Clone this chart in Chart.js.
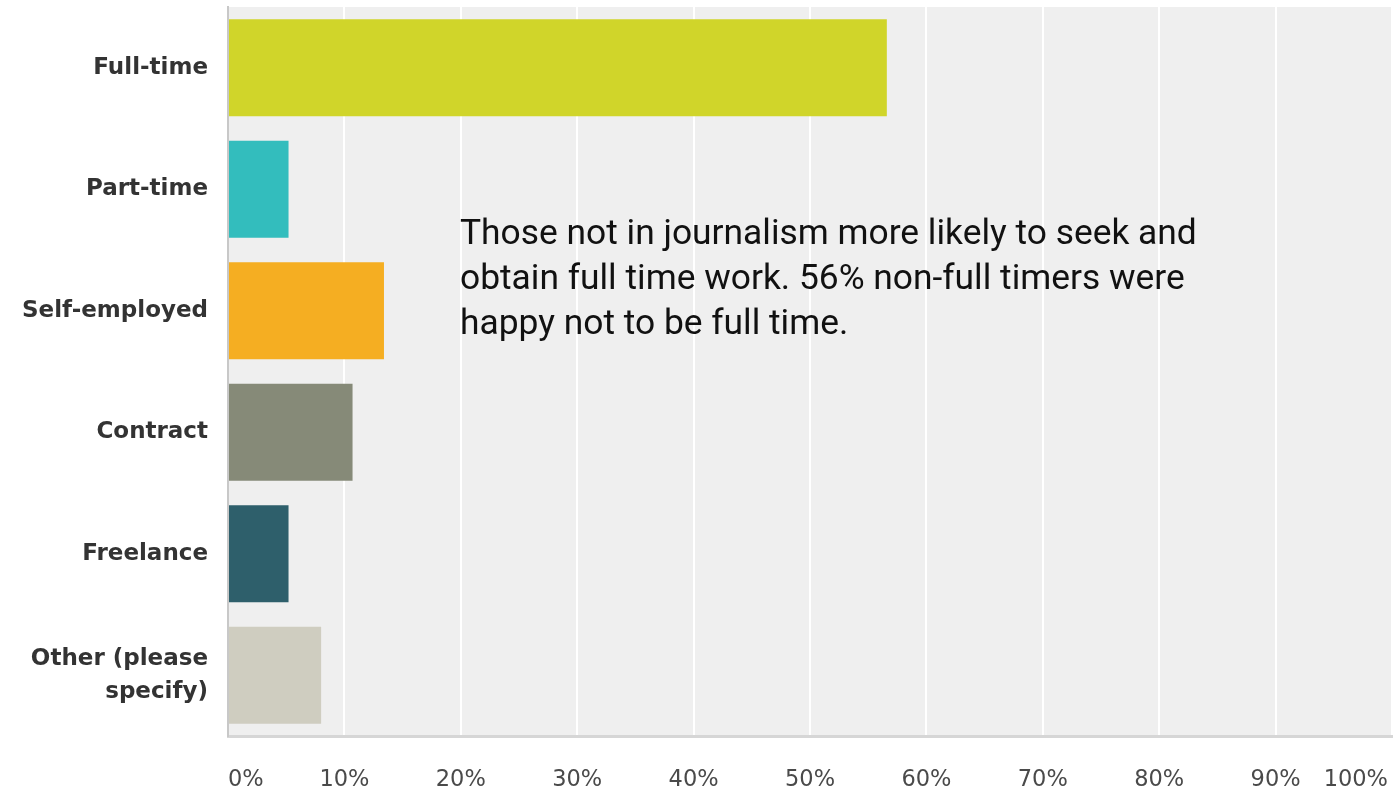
<!DOCTYPE html>
<html>
<head>
<meta charset="utf-8">
<script src="https://cdn.jsdelivr.net/npm/chart.js@4/dist/chart.umd.min.js"></script>
<style>
html,body{margin:0;padding:0;background:#fff;}
#wrap{position:relative;width:1399px;height:796px;}
#c{display:block;}
#note{position:absolute;left:460px;top:210px;font-family:Roboto,"Liberation Sans",sans-serif;color:#111;line-height:45px;white-space:nowrap;}
</style>
</head>
<body>
<div id="wrap">
<canvas id="c" width="1399" height="796"></canvas>
<div id="note"><div id="l1">Those not in journalism more likely to seek and</div><div>obtain full time work. 56% non-full timers were</div><div>happy not to be full time.</div></div>
</div>
<script>
const categories = ["Full-time", "Part-time", "Self-employed", "Contract", "Freelance", ["Other (please", "specify)"]];
const values = [56.6, 5.2, 13.4, 10.7, 5.2, 8.0];
const barColors = ["#d0d52a", "#33bdbd", "#f5ae22", "#868a78", "#2e5f6b", "#cfcdc0"];
const tickValues = [0, 10, 20, 30, 40, 50, 60, 70, 80, 90, 100];

(function(){
  const cv = document.createElement('canvas').getContext('2d');
  cv.font = '100px Roboto';
  const w = cv.measureText(document.getElementById('l1').textContent).width;
  const size = 737 / w * 100;
  document.getElementById('note').style.fontSize = size.toFixed(2) + 'px';
})();

const bgPlugin = {
  id: 'bg',
  beforeDraw(chart) {
    const {ctx, chartArea} = chart;
    ctx.save();
    ctx.fillStyle = '#efefef';
    ctx.fillRect(chartArea.left, chartArea.top, chartArea.right - chartArea.left, chartArea.bottom - chartArea.top);
    ctx.restore();
  },
  afterDraw(chart) {
    const {ctx, chartArea} = chart;
    const scale = chart.scales.x;
    ctx.save();
    ctx.font = '22.5px "DejaVu Sans"';
    ctx.fillStyle = '#4a4a4a';
    ctx.textBaseline = 'middle';
    ctx.textAlign = 'center';
    tickValues.forEach(v => {
      const label = v + '%';
      const w = ctx.measureText(label).width;
      let x = scale.getPixelForValue(v);
      x = Math.max(x, chartArea.left + w / 2);
      x = Math.min(x, chartArea.right - 4 - w / 2);
      ctx.fillText(label, x, 780);
    });
    ctx.restore();
  }
};

new Chart(document.getElementById('c'), {
  type: 'bar',
  data: {
    labels: categories,
    datasets: [{
      data: values,
      backgroundColor: barColors,
      borderWidth: 0,
      barPercentage: 0.8,
      categoryPercentage: 1.0
    }]
  },
  options: {
    indexAxis: 'y',
    responsive: false,
    animation: false,
    layout: { padding: { top: 7, right: 7, left: 0, bottom: 0 }, autoPadding: false },
    plugins: { legend: { display: false }, tooltip: { enabled: false } },
    scales: {
      x: {
        min: 0, max: 100,
        ticks: { display: false, stepSize: 10 },
        grid: { color: '#ffffff', lineWidth: 2, drawTicks: false },
        border: { color: '#d6d6d6', width: 3 },
        afterFit(scale) { scale.height = 60; scale.paddingLeft = 0; scale.paddingRight = 0; }
      },
      y: {
        grid: { display: false, drawTicks: false },
        border: { color: '#c8c8c8', width: 2 },
        ticks: {
          color: '#333333',
          padding: 20,
          font: { family: '"DejaVu Sans"', weight: 'bold', size: 23, lineHeight: 1.45 }
        },
        afterFit(scale) { scale.width = 228; scale.paddingTop = 0; scale.paddingBottom = 0; }
      }
    }
  },
  plugins: [bgPlugin]
});
</script>
</body>
</html>
